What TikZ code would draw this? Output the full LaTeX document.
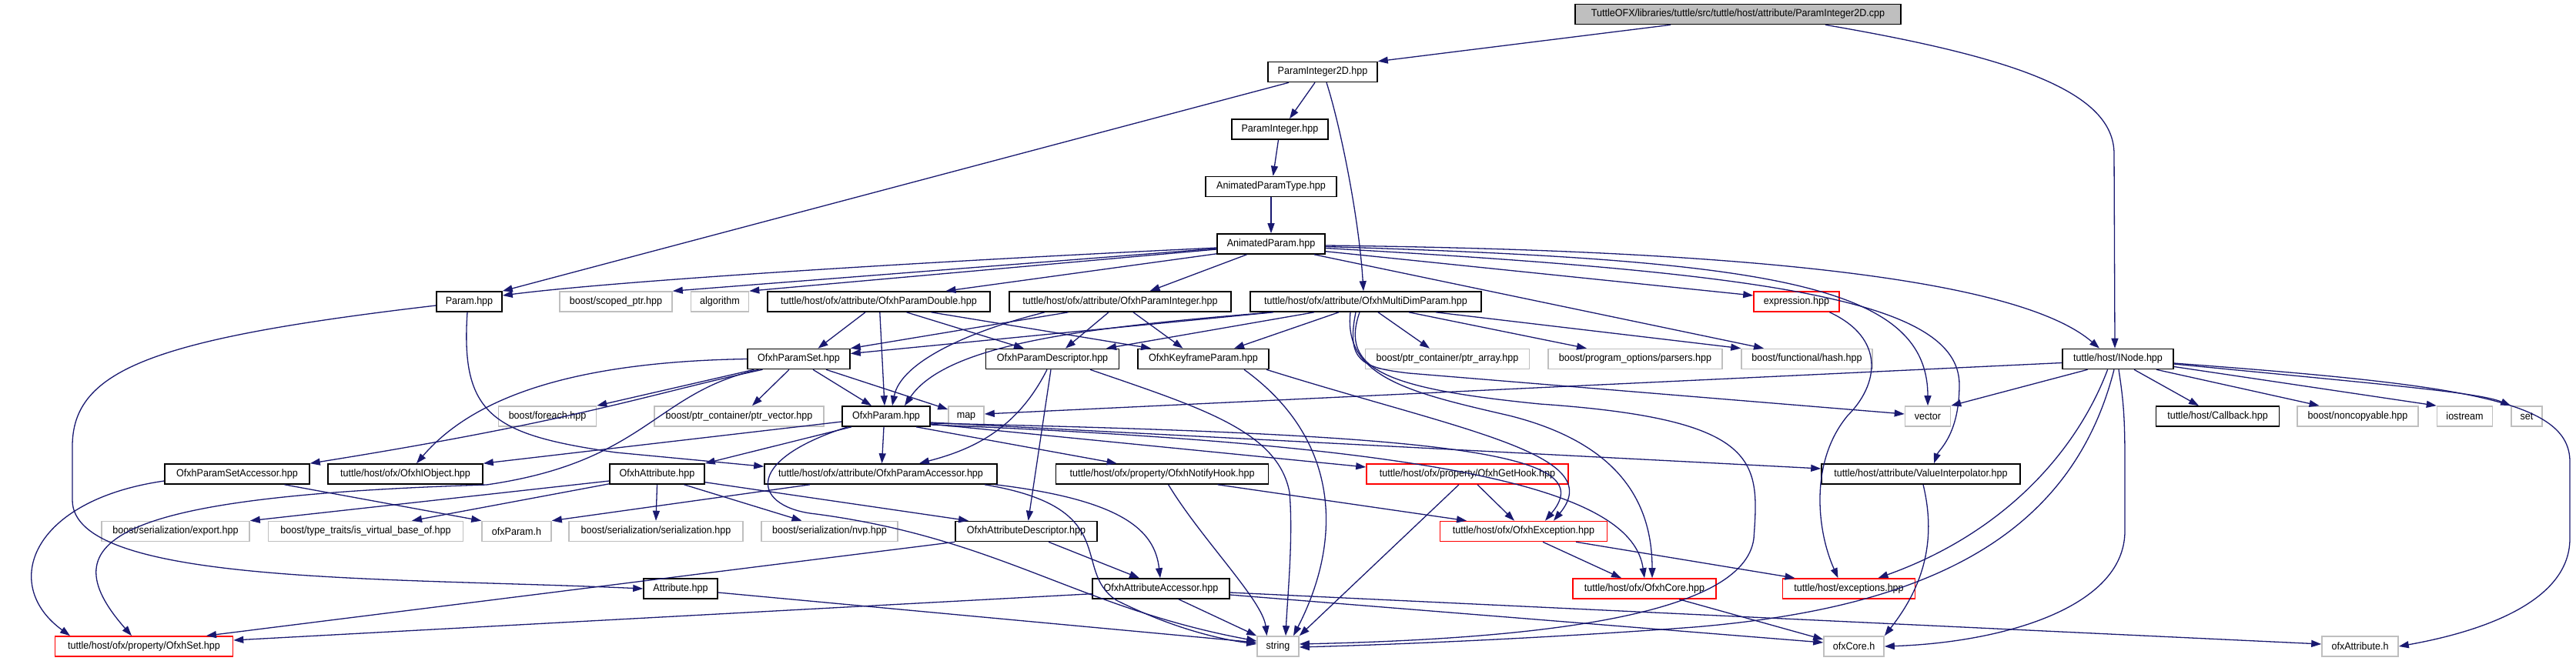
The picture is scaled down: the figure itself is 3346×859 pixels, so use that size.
\documentclass[tikz,border=0pt]{standalone}
\usepackage{fontspec}
\setmainfont{Liberation Sans}[FakeStretch=0.93]
\usetikzlibrary{arrows.meta}
\definecolor{edgec}{HTML}{191970}
\definecolor{grb}{HTML}{BFBFBF}
\definecolor{redb}{HTML}{FF0000}
\begin{document}
\begin{tikzpicture}[x=1pt,y=-1pt,
  box/.style={draw=black, line width=1.6pt, fill=white, minimum height=26pt, inner sep=0pt, font=\fontsize{13.5}{14}\selectfont},
  sysbox/.style={box, draw=grb},
  trunc/.style={box, draw=redb},
  mainbox/.style={box, fill=grb},
  e/.style={draw=edgec, line width=1.3pt, -{Triangle[length=13pt,width=9pt]}}]
\useasboundingbox (0,0) rectangle (3346,859);
% rank 1-5
\node[mainbox, minimum width=423pt] (main) at (2257.5,18.5) {TuttleOFX/libraries/tuttle/src/tuttle/host/attribute/ParamInteger2D.cpp};
\node[box, minimum width=142pt] (pi2d) at (1718,93.5) {ParamInteger2D.hpp};
\node[box, minimum width=125pt] (pint) at (1662.5,168) {ParamInteger.hpp};
\node[box, minimum width=170pt] (aptype) at (1651,242.5) {AnimatedParamType.hpp};
\node[box, minimum width=140pt] (ap) at (1651,317) {AnimatedParam.hpp};
% rank 6
\node[box, minimum width=85pt] (param) at (609.5,392) {Param.hpp};
\node[sysbox, minimum width=146pt] (scoped) at (800,392) {boost/scoped\_ptr.hpp};
\node[sysbox, minimum width=75pt] (algo) at (935,392) {algorithm};
\node[box, minimum width=289pt] (pdouble) at (1141.5,392) {tuttle/host/ofx/attribute/OfxhParamDouble.hpp};
\node[box, minimum width=288pt] (pint2) at (1455,392) {tuttle/host/ofx/attribute/OfxhParamInteger.hpp};
\node[box, minimum width=300pt] (multidim) at (1774,392) {tuttle/host/ofx/attribute/OfxhMultiDimParam.hpp};
\node[trunc, minimum width=111pt] (expr) at (2333.5,392) {expression.hpp};
% rank 7
\node[box, minimum width=133pt] (pset) at (1037.5,466.5) {OfxhParamSet.hpp};
\node[box, minimum width=173pt] (pdesc) at (1367,466.5) {OfxhParamDescriptor.hpp};
\node[box, minimum width=170pt] (kf) at (1563,466.5) {OfxhKeyframeParam.hpp};
\node[sysbox, minimum width=213pt] (ptrarr) at (1880,466.5) {boost/ptr\_container/ptr\_array.hpp};
\node[sysbox, minimum width=226pt] (parsers) at (2124,466.5) {boost/program\_options/parsers.hpp};
\node[sysbox, minimum width=170pt] (hash) at (2347,466.5) {boost/functional/hash.hpp};
\node[box, minimum width=144pt] (inode) at (2751,466.5) {tuttle/host/INode.hpp};
% rank 8
\node[sysbox, minimum width=127pt] (foreach) at (711,541) {boost/foreach.hpp};
\node[sysbox, minimum width=220pt] (ptrvec) at (960,541) {boost/ptr\_container/ptr\_vector.hpp};
\node[box, minimum width=114pt] (oparam) at (1151,541) {OfxhParam.hpp};
\node[sysbox, minimum width=46pt] (nmap) at (1255,541) {map};
\node[sysbox, minimum width=59pt] (nvector) at (2504,541) {vector};
\node[box, minimum width=160pt] (callback) at (2880.5,541) {tuttle/host/Callback.hpp};
\node[sysbox, minimum width=157pt] (noncopy) at (3062.5,541) {boost/noncopyable.hpp};
\node[sysbox, minimum width=72pt] (iostr) at (3201.5,541) {iostream};
\node[sysbox, minimum width=40pt] (nset) at (3282,541) {set};
% rank 9
\node[box, minimum width=188pt] (psa) at (308,616) {OfxhParamSetAccessor.hpp};
\node[box, minimum width=201pt] (iobj) at (526.5,616) {tuttle/host/ofx/OfxhIObject.hpp};
\node[box, minimum width=123pt] (attr) at (853.5,616) {OfxhAttribute.hpp};
\node[box, minimum width=302pt] (paccess) at (1144,616) {tuttle/host/ofx/attribute/OfxhParamAccessor.hpp};
\node[box, minimum width=276pt] (notify) at (1509.6,616) {tuttle/host/ofx/property/OfxhNotifyHook.hpp};
\node[trunc, minimum width=262pt] (gethook) at (1906,616) {tuttle/host/ofx/property/OfxhGetHook.hpp};
\node[box, minimum width=258pt] (valinterp) at (2495,616) {tuttle/host/attribute/ValueInterpolator.hpp};
% rank 10
\node[sysbox, minimum width=192pt] (nexport) at (228,690.5) {boost/serialization/export.hpp};
\node[sysbox, minimum width=253pt] (isvirt) at (475,690.5) {boost/type\_traits/is\_virtual\_base\_of.hpp};
\node[sysbox, minimum width=90pt] (ofxparam) at (671,690.5) {ofxParam.h};
\node[sysbox, minimum width=226pt] (serial) at (852,690.5) {boost/serialization/serialization.hpp};
\node[sysbox, minimum width=177pt] (nvp) at (1077.5,690.5) {boost/serialization/nvp.hpp};
\node[box, minimum width=184pt] (attrdesc) at (1333,690.5) {OfxhAttributeDescriptor.hpp};
\node[trunc, minimum width=217pt] (exc) at (1979,690.5) {tuttle/host/ofx/OfxhException.hpp};
% rank 11
\node[box, minimum width=96pt] (attribute) at (884,765) {Attribute.hpp};
\node[box, minimum width=178pt] (attracc) at (1508,765) {OfxhAttributeAccessor.hpp};
\node[trunc, minimum width=186pt] (core) at (2136,765) {tuttle/host/ofx/OfxhCore.hpp};
\node[trunc, minimum width=172pt] (exceptions) at (2401.5,765) {tuttle/host/exceptions.hpp};
% rank 12
\node[trunc, minimum width=231pt] (oset) at (187,840) {tuttle/host/ofx/property/OfxhSet.hpp};
\node[sysbox, minimum width=54pt] (nstring) at (1660,840) {string};
\node[sysbox, minimum width=78pt] (ofxcore) at (2408,840) {ofxCore.h};
\node[sysbox, minimum width=99pt] (ofxattr) at (3065.5,840) {ofxAttribute.h};

% edges
\draw[e] ([xshift=-87.5pt]main.south) -- (pi2d.north east);
\draw[e] ([xshift=113.5pt]main.south) .. controls (2620,75) and (2746,120) .. (2746,200) -- ([xshift=-4pt]inode.north);
\draw[e] ([xshift=-44pt]pi2d.south) -- (param.north east);
\draw[e] ([xshift=-10pt]pi2d.south) -- ([xshift=12.5pt]pint.north);
\draw[e] ([xshift=5pt]pi2d.south) .. controls (1740,160) and (1765,280) .. ([xshift=-3pt]multidim.north);
\draw[e] ([xshift=-2pt]pint.south) -- ([xshift=2.6pt]aptype.north);
\draw[e] (aptype.south) -- (ap.north);
\draw[e] ([yshift=-5pt]ap.west) .. controls (1200,340) and (800,365) .. ([yshift=8pt]param.east);
\draw[e] ([yshift=-6pt]ap.west) -- (scoped.north east);
\draw[e] ([yshift=-7pt]ap.west) -- (algo.north east);
\draw[e] ([yshift=1pt]ap.south west) -- ([xshift=87pt]pdouble.north);
\draw[e] ([xshift=-31.5pt]ap.south) -- ([xshift=38.6pt]pint2.north);
\draw[e] ([yshift=-9.7pt]ap.east) -- ([yshift=8pt]expr.west);
\draw[e] ([xshift=56pt]ap.south) -- ([xshift=-56pt]hash.north);
\draw[e] ([yshift=-2pt]ap.east) .. controls (2250,325) and (2620,360) .. ([xshift=-24pt]inode.north);
\draw[e] ([yshift=-3.5pt]ap.east) .. controls (2300,338) and (2504,370) .. (nvector.north);
\draw[e] ([yshift=-5.5pt]ap.east) .. controls (2300,355) and (2545,390) .. (2545,500) .. controls (2545,565) and (2518,585) .. ([xshift=17pt]valinterp.north);
\draw[e] ([xshift=43pt]expr.south) .. controls (2450,440) and (2440,500) .. (2400,540) .. controls (2350,600) and (2360,690) .. ([xshift=-14pt]exceptions.north);
\draw[e] ([xshift=-2.5pt]param.south) .. controls (598,540) and (640,565) .. (800,588) -- ([yshift=-4pt]paccess.north west);
\draw[e] ([yshift=-5pt]param.west) .. controls (200,440) and (94,480) .. (94,580) -- (94,650) .. controls (94,760) and (500,750) .. (attribute.west);
\draw[e] ([xshift=-17.5pt]pdouble.south) -- ([xshift=25pt]pset.north);
\draw[e] ([xshift=1.3pt]pdouble.south) -- ([xshift=-2pt]oparam.north);
\draw[e] ([xshift=36pt]pdouble.south) -- ([xshift=-37pt]pdesc.north);
\draw[e] ([xshift=68pt]pdouble.south) -- ([xshift=-68pt]kf.north);
\draw[e] ([xshift=-67.5pt]pint2.south) -- (pset.north east);
\draw[e] ([xshift=-98pt]pint2.south) .. controls (1260,430) and (1170,470) .. ([xshift=8pt]oparam.north);
\draw[e] ([xshift=-15pt]pint2.south) -- ([xshift=17pt]pdesc.north);
\draw[e] ([xshift=17pt]pint2.south) -- ([xshift=-26.5pt]kf.north);
\draw[e] ([xshift=-120pt]multidim.south) -- ([yshift=7pt]pset.east);
\draw[e] ([xshift=-67pt]multidim.south) -- ([xshift=70pt]pdesc.north);
\draw[e] ([xshift=-35pt]multidim.south) -- ([xshift=40pt]kf.north);
\draw[e] ([xshift=-122pt]multidim.south) .. controls (1420,425) and (1230,445) .. ([xshift=24pt]oparam.north);
\draw[e] ([xshift=16pt]multidim.south) -- ([xshift=-23pt]ptrarr.north);
\draw[e] ([xshift=56pt]multidim.south) -- ([xshift=-63pt]parsers.north);
\draw[e] ([xshift=91pt]multidim.south) -- (hash.north west);
\draw[e] ([xshift=-13pt]multidim.south) .. controls (1748,470) and (1770,478) .. (1830,485) -- ([yshift=3pt]nvector.west);
\draw[e] ([xshift=-8pt]multidim.south) .. controls (1740,480) and (1800,505) .. (2000,525) .. controls (2290,545) and (2285,600) .. (2278,700) .. controls (2265,800) and (2000,830) .. ([yshift=3pt]nstring.east);
\draw[e] ([xshift=-20pt]multidim.south) .. controls (1745,490) and (1830,510) .. (1960,540) .. controls (2100,575) and (2146,650) .. ([xshift=10pt]core.north);
\draw[e] (pset.west) .. controls (760,470) and (620,510) .. ([xshift=14.5pt]iobj.north);
\draw[e] ([xshift=-47pt]pset.south) .. controls (850,510) and (760,545) .. (psa.north east);
\draw[e] ([xshift=-52pt]pset.south) .. controls (850,510) and (840,600) .. (632,630) .. controls (150,645) and (60,700) .. ([xshift=-16pt]oset.north);
\draw[e] ([xshift=-12.5pt]pset.south) -- ([xshift=17pt]ptrvec.north);
\draw[e] ([xshift=18.5pt]pset.south) -- ([xshift=-19pt]oparam.north);
\draw[e] ([xshift=35.5pt]pset.south) -- ([yshift=9pt]nmap.west);
\draw[e] ([xshift=-58pt]pset.south) -- (foreach.north east);
\draw[e] ([xshift=-7pt]pdesc.south) .. controls (1320,560) and (1260,585) .. ([xshift=50pt]paccess.north);
\draw[e] ([xshift=-2pt]pdesc.south) -- ([xshift=2.6pt]attrdesc.north);
\draw[e] ([xshift=49pt]pdesc.south) .. controls (1560,530) and (1660,560) .. (1675,640) .. controls (1680,700) and (1672,780) .. ([xshift=10pt]nstring.north);
\draw[e] ([xshift=-45pt]oparam.south) -- (attr.north east);
\draw[e] ([xshift=-3pt]oparam.south) -- ([xshift=1.5pt]paccess.north);
\draw[e] ([yshift=-7pt]oparam.west) -- (iobj.north east);
\draw[e] ([xshift=39pt]oparam.south) -- ([xshift=-59pt]notify.north);
\draw[e] ([yshift=-10pt]oparam.east) -- ([yshift=9pt]gethook.west);
\draw[e] ([yshift=-8pt]oparam.east) -- ([yshift=7pt]valinterp.west);
\draw[e] ([yshift=-9pt]oparam.east) .. controls (1900,565) and (2080,590) .. ([xshift=28pt]exc.north);
\draw[e] ([yshift=-11pt]oparam.east) .. controls (1900,580) and (2120,640) .. (core.north);
\draw[e] ([xshift=-50pt]oparam.south) .. controls (960,600) and (980,660) .. (1060,668) .. controls (1300,700) and (1400,790) .. ([yshift=7pt]nstring.west);
\draw[e] ([xshift=53pt]kf.south) .. controls (1740,570) and (1745,700) .. ([xshift=20pt]nstring.north);
\draw[e] ([xshift=82pt]kf.south) .. controls (1900,560) and (2090,590) .. ([xshift=39pt]exc.north);
\draw[e] ([xshift=-11pt]gethook.south) -- (nstring.north east);
\draw[e] ([xshift=13pt]gethook.south) -- ([xshift=-12pt]exc.north);
\draw[e] ([xshift=8pt]notify.south) .. controls (1560,700) and (1640,780) .. ([xshift=-14.5pt]nstring.north);
\draw[e] ([xshift=72pt]notify.south) -- ([xshift=-74pt]exc.north);
\draw[e] ([xshift=3pt]valinterp.south) .. controls (2515,700) and (2500,760) .. (ofxcore.north east);
\draw[e] ([xshift=25pt]exc.south) -- ([xshift=-30pt]core.north);
\draw[e] ([xshift=68pt]exc.south) -- ([xshift=-70pt]exceptions.north);
\draw[e] ([xshift=45pt]core.south) -- ([yshift=9pt]ofxcore.west);
\draw[e] ([xshift=23pt]attracc.south) -- (nstring.north west);
\draw[e] ([yshift=-6.7pt]attracc.west) -- ([yshift=8pt]oset.east);
\draw[e] ([yshift=-8pt]attracc.east) -- ([yshift=5pt]ofxcore.west);
\draw[e] ([yshift=-5pt]attracc.east) -- ([yshift=3pt]ofxattr.west);
\draw[e] ([xshift=29pt]attrdesc.south) -- ([xshift=-28pt]attracc.north);
\draw[e] (attrdesc.south west) -- ([xshift=81pt]oset.north);
\draw[e] ([xshift=-92pt]paccess.south) -- (ofxparam.north east);
\draw[e] ([xshift=149pt]paccess.south) .. controls (1460,650) and (1500,690) .. ([xshift=-1pt]attracc.north);
\draw[e] ([xshift=135pt]paccess.south) .. controls (1460,660) and (1390,740) .. (1450,780) .. controls (1520,815) and (1580,830) .. ([yshift=3pt]nstring.west);
\draw[e] ([yshift=-9pt]attr.west) -- (nexport.north east);
\draw[e] ([yshift=1pt]attr.south west) -- ([xshift=60pt]isvirt.north);
\draw[e] (attr.south) -- (serial.north);
\draw[e] ([xshift=35pt]attr.south) -- ([xshift=-36pt]nvp.north);
\draw[e] ([yshift=-10.7pt]attr.east) -- ([xshift=-75pt]attrdesc.north);
\draw[e] ([yshift=-9pt]psa.west) .. controls (40,650) and (0,760) .. ([xshift=-96pt]oset.north);
\draw[e] ([xshift=61.5pt]psa.south) -- (ofxparam.north west);
\draw[e] ([yshift=-5pt]attribute.east) -- ([yshift=5pt]nstring.west);
\draw[e] ([yshift=-5pt]inode.west) -- ([yshift=3pt]nmap.east);
\draw[e] ([xshift=-39.4pt]inode.south) -- (nvector.north east);
\draw[e] ([xshift=-13.4pt]inode.south) .. controls (2700,580) and (2610,690) .. ([xshift=38pt]exceptions.north);
\draw[e] ([xshift=-5pt]inode.south) .. controls (2690,700) and (2500,790) .. (2200,815) .. controls (2000,830) and (1800,838) .. ([yshift=-1pt]nstring.east);
\draw[e] ([xshift=1pt]inode.south) .. controls (2758,520) and (2760,540) .. (2760,600) -- (2760,690) .. controls (2760,790) and (2600,835) .. (ofxcore.east);
\draw[e] ([xshift=21pt]inode.south) -- ([xshift=-24.5pt]callback.north);
\draw[e] ([xshift=50pt]inode.south) -- ([xshift=-50pt]noncopy.north);
\draw[e] ([yshift=-10pt]inode.east) -- (iostr.north west);
\draw[e] ([yshift=-6.5pt]inode.east) .. controls (3100,500) and (3220,510) .. (nset.north west);
\draw[e] ([yshift=-5.5pt]inode.east) .. controls (3200,500) and (3338,520) .. (3338,600) -- (3338,700) .. controls (3338,790) and (3200,825) .. (ofxattr.east);
\end{tikzpicture}
\end{document}
